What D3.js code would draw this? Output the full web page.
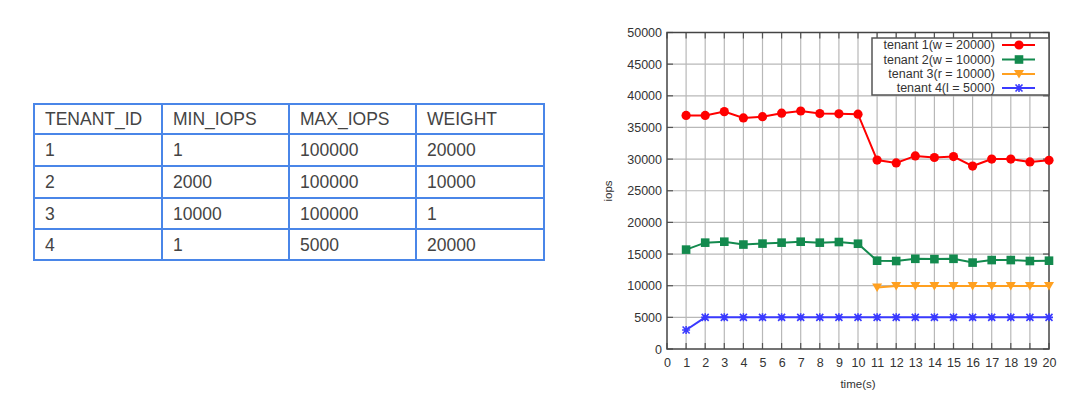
<!DOCTYPE html>
<html><head><meta charset="utf-8">
<script src="https://cdn.jsdelivr.net/npm/d3@7"></script>
<style>body{margin:0;background:#fff;} svg{display:block;}</style>
</head><body>
<svg id="c" width="1080" height="401"></svg>
<script>
// ---- data ----
const tableHeader = ["TENANT_ID","MIN_IOPS","MAX_IOPS","WEIGHT"];
const tableRows = [
  ["1","1","100000","20000"],
  ["2","2000","100000","10000"],
  ["3","10000","100000","1"],
  ["4","1","5000","20000"]
];
const times = [1,2,3,4,5,6,7,8,9,10,11,12,13,14,15,16,17,18,19,20];
const tenant1 = [36900,36900,37500,36500,36700,37250,37600,37200,37150,37100,29850,29400,30500,30250,30400,28900,30000,30000,29550,29800];
const tenant2 = [15700,16800,16950,16500,16650,16800,16950,16800,16900,16630,13950,13900,14250,14200,14250,13650,14050,14050,13900,13950];
const tenant3Times = [11,12,13,14,15,16,17,18,19,20];
const tenant3 = [9700,9950,9950,9950,9950,9950,9950,9950,9950,9950];
const tenant4 = [3000,5000,5000,5000,5000,5000,5000,5000,5000,5000,5000,5000,5000,5000,5000,5000,5000,5000,5000,5000];
const seriesNames = ["tenant 1(w = 20000)","tenant 2(w = 10000)","tenant 3(r = 10000)","tenant 4(l = 5000)"];
const xTicks = d3.range(0,21);
const yTicks = d3.range(0,50001,5000);

const svg = d3.select("#c");

// ---- table ----
const colX = [34,162,289,416,544];
const rowY = [104,134,166,198,229,260];
const tbl = svg.append("g");
const allRows = [tableHeader].concat(tableRows);
allRows.forEach((r,ri)=>{
  r.forEach((cell,ci)=>{
    tbl.append("text").attr("x",colX[ci]+11).attr("y",(rowY[ri]+rowY[ri+1])/2+6)
      .attr("font-family","Liberation Sans, Arial, sans-serif").attr("font-size",17.5)
      .attr("fill","#444").text(cell);
  });
});
rowY.forEach(y=>tbl.append("line").attr("x1",colX[0]-1).attr("x2",colX[4]+1).attr("y1",y).attr("y2",y)
  .attr("stroke","#4a86e8").attr("stroke-width",2));
colX.forEach(x=>tbl.append("line").attr("x1",x).attr("x2",x).attr("y1",rowY[0]).attr("y2",rowY[5])
  .attr("stroke","#4a86e8").attr("stroke-width",2));

// ---- chart ----
const L=667,R=1049,T=32.5,B=349;
const x = d3.scaleLinear().domain([0,20]).range([L,R]);
const y = d3.scaleLinear().domain([0,50000]).range([B,T]);
const g = svg.append("g");
const font = "Liberation Sans, Arial, sans-serif";

// grid
g.append("g").selectAll("line").data(xTicks.slice(1,-1)).join("line")
  .attr("x1",d=>x(d)).attr("x2",d=>x(d)).attr("y1",T).attr("y2",B)
  .attr("stroke","#b8b8b8").attr("stroke-width",1.2);
g.append("g").selectAll("line").data(yTicks.slice(1,-1)).join("line")
  .attr("x1",L).attr("x2",R).attr("y1",d=>y(d)).attr("y2",d=>y(d))
  .attr("stroke","#b8b8b8").attr("stroke-width",1.2);
// inner ticks
const tk = g.append("g").attr("stroke","#555").attr("stroke-width",1.2);
xTicks.forEach(d=>{
  tk.append("line").attr("x1",x(d)).attr("x2",x(d)).attr("y1",B).attr("y2",B-6);
  tk.append("line").attr("x1",x(d)).attr("x2",x(d)).attr("y1",T).attr("y2",T+6);
});
yTicks.forEach(d=>{
  tk.append("line").attr("x1",L).attr("x2",L+6).attr("y1",y(d)).attr("y2",y(d));
  tk.append("line").attr("x1",R).attr("x2",R-6).attr("y1",y(d)).attr("y2",y(d));
});
// frame
g.append("rect").attr("x",L).attr("y",T).attr("width",R-L).attr("height",B-T)
  .attr("fill","none").attr("stroke","#444").attr("stroke-width",1.5);

// axis labels via d3 axes (no domain/ticks lines)
const yAxis = g.append("g").attr("transform",`translate(${L},0)`)
  .call(d3.axisLeft(y).tickValues(yTicks).tickSize(0).tickPadding(5).tickFormat(d3.format("d")));
const xAxis = g.append("g").attr("transform",`translate(0,${B})`)
  .call(d3.axisBottom(x).tickValues(xTicks).tickSize(0).tickPadding(9).tickFormat(d3.format("d")));
[yAxis,xAxis].forEach(a=>{
  a.select(".domain").remove();
  a.selectAll("text").attr("font-family",font).attr("font-size",12.5).attr("fill","#333");
});
g.append("text").attr("x",(L+R)/2).attr("y",388).attr("text-anchor","middle")
  .attr("font-family",font).attr("font-size",11.5).attr("fill","#333").text("time(s)");
g.append("text").attr("transform",`translate(612,191) rotate(-90)`).attr("text-anchor","middle")
  .attr("font-family",font).attr("font-size",11.5).attr("fill","#333").text("iops");

// series
const colors = ["#ff0000","#138a4e","#ffa020","#3a3aff"];
const series = [
  {t:times, v:tenant1, c:colors[0], m:"circle"},
  {t:times, v:tenant2, c:colors[1], m:"square"},
  {t:tenant3Times, v:tenant3, c:colors[2], m:"tri"},
  {t:times, v:tenant4, c:colors[3], m:"star"}
];
function marker(sel,type,c){
  if(type==="circle") sel.append("circle").attr("r",4.6).attr("fill",c);
  else if(type==="square") sel.append("rect").attr("x",-4.3).attr("y",-4.3).attr("width",8.6).attr("height",8.6).attr("fill",c);
  else if(type==="tri") sel.append("path").attr("d","M-5,-4L5,-4L0,4.5Z").attr("fill",c);
  else { sel.append("path").attr("d","M-3.5,-3.5L3.5,3.5M-3.5,3.5L3.5,-3.5M0,-4L0,4M-4,0L4,0").attr("stroke",c).attr("stroke-width",1.6).attr("fill","none"); }
}
const line = d3.line();
series.forEach(s=>{
  const pts = s.t.map((t,i)=>[x(t),y(s.v[i])]);
  g.append("path").attr("d",line(pts)).attr("fill","none").attr("stroke",s.c).attr("stroke-width",2);
  pts.forEach(p=>{ const m=g.append("g").attr("transform",`translate(${p[0]},${p[1]})`); marker(m,s.m,s.c); });
});

// legend
const lg = g.append("g");
lg.append("rect").attr("x",872).attr("y",38).attr("width",R-872).attr("height",57)
  .attr("fill","#fff").attr("stroke","#555").attr("stroke-width",1.5);
const rowsY=[45,59.5,74,88];
seriesNames.forEach((n,i)=>{
  lg.append("text").attr("x",995).attr("y",rowsY[i]+4.3).attr("text-anchor","end")
    .attr("font-family",font).attr("font-size",12.5).attr("fill","#333").text(n);
  lg.append("line").attr("x1",1002).attr("x2",1035).attr("y1",rowsY[i]).attr("y2",rowsY[i])
    .attr("stroke",colors[i]).attr("stroke-width",2);
  const m=lg.append("g").attr("transform",`translate(1019,${rowsY[i]})`); marker(m,series[i].m,colors[i]);
});
</script>
</body></html>
